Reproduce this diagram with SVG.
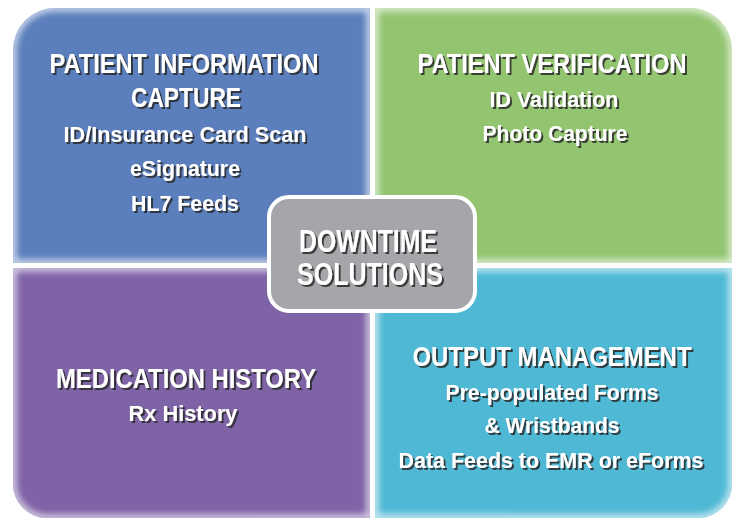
<svg xmlns="http://www.w3.org/2000/svg" width="740" height="520" viewBox="0 0 740 520">
<defs>
<style>
text{font-family:"Liberation Sans Narrow","Liberation Sans",Arial,sans-serif;font-weight:bold;fill:#ffffff;text-anchor:middle;filter:url(#sh)}
.t{font-size:28px}
.s{font-size:22px}
.c{font-size:32px}
.glow{fill:none;stroke:#ffffff;stroke-width:7;opacity:0.7;filter:url(#bl)}
</style>
<filter id="sh" x="-20%" y="-50%" width="140%" height="200%">
<feDropShadow dx="2" dy="2" stdDeviation="0.6" flood-color="#2b2b2b" flood-opacity="0.85"/>
</filter>
<filter id="bl" x="-10%" y="-10%" width="120%" height="120%">
<feGaussianBlur stdDeviation="3"/>
</filter>
<clipPath id="cb"><path d="M13,50 A42,42 0 0 1 55,8 H370 V263 H13 Z"/></clipPath>
<clipPath id="cg"><path d="M375,8 H690 A42,42 0 0 1 732,50 V263 H375 Z"/></clipPath>
<clipPath id="cp"><path d="M13,268 H370 V518 H47 A34,34 0 0 1 13,484 Z"/></clipPath>
<clipPath id="cc"><path d="M375,268 H732 V484 A34,34 0 0 1 698,518 H375 Z"/></clipPath>
</defs>
<rect width="740" height="520" fill="#ffffff"/>
<g id="connectors"/>
<g id="patient-information-capture">
<g clip-path="url(#cb)">
<rect x="13" y="8" width="357" height="255" fill="#5b7fbd"/>
<path class="glow" d="M13,50 A42,42 0 0 1 55,8 H370 V263 H13 Z"/>
</g>
<text class="t" x="184" y="73" textLength="269" lengthAdjust="spacingAndGlyphs">PATIENT INFORMATION</text>
<text class="t" x="186" y="107" textLength="110" lengthAdjust="spacingAndGlyphs">CAPTURE</text>
<text class="s" x="185" y="142" textLength="243" lengthAdjust="spacingAndGlyphs">ID/Insurance Card Scan</text>
<text class="s" x="185" y="176" textLength="110" lengthAdjust="spacingAndGlyphs">eSignature</text>
<text class="s" x="185" y="211" textLength="108" lengthAdjust="spacingAndGlyphs">HL7 Feeds</text>
</g>
<g id="patient-verification">
<g clip-path="url(#cg)">
<rect x="375" y="8" width="357" height="255" fill="#93c571"/>
<path class="glow" d="M375,8 H690 A42,42 0 0 1 732,50 V263 H375 Z"/>
</g>
<text class="t" x="552" y="73" textLength="269" lengthAdjust="spacingAndGlyphs">PATIENT VERIFICATION</text>
<text class="s" x="554" y="107" textLength="129" lengthAdjust="spacingAndGlyphs">ID Validation</text>
<text class="s" x="555" y="141" textLength="145" lengthAdjust="spacingAndGlyphs">Photo Capture</text>
</g>
<g id="medication-history">
<g clip-path="url(#cp)">
<rect x="13" y="268" width="357" height="250" fill="#7f63a7"/>
<path class="glow" d="M13,268 H370 V518 H47 A34,34 0 0 1 13,484 Z"/>
</g>
<text class="t" x="186" y="388" textLength="260" lengthAdjust="spacingAndGlyphs">MEDICATION HISTORY</text>
<text class="s" x="183" y="421" textLength="109" lengthAdjust="spacingAndGlyphs">Rx History</text>
</g>
<g id="output-management">
<g clip-path="url(#cc)">
<rect x="375" y="268" width="357" height="250" fill="#4fb9d5"/>
<path class="glow" d="M375,268 H732 V484 A34,34 0 0 1 698,518 H375 Z"/>
</g>
<text class="t" x="552" y="366" textLength="279" lengthAdjust="spacingAndGlyphs">OUTPUT MANAGEMENT</text>
<text class="s" x="552" y="400" textLength="213" lengthAdjust="spacingAndGlyphs">Pre-populated Forms</text>
<text class="s" x="552" y="433" textLength="135" lengthAdjust="spacingAndGlyphs">&amp; Wristbands</text>
<text class="s" x="551" y="468" textLength="305" lengthAdjust="spacingAndGlyphs">Data Feeds to EMR or eForms</text>
</g>
<g id="downtime-solutions">
<rect x="269" y="197" width="206" height="114" rx="20" fill="#a4a6a9" stroke="#ffffff" stroke-width="4"/>
<text class="c" x="368" y="252" textLength="138" lengthAdjust="spacingAndGlyphs">DOWNTIME</text>
<text class="c" x="370" y="285" textLength="146" lengthAdjust="spacingAndGlyphs">SOLUTIONS</text>
</g>
</svg>
